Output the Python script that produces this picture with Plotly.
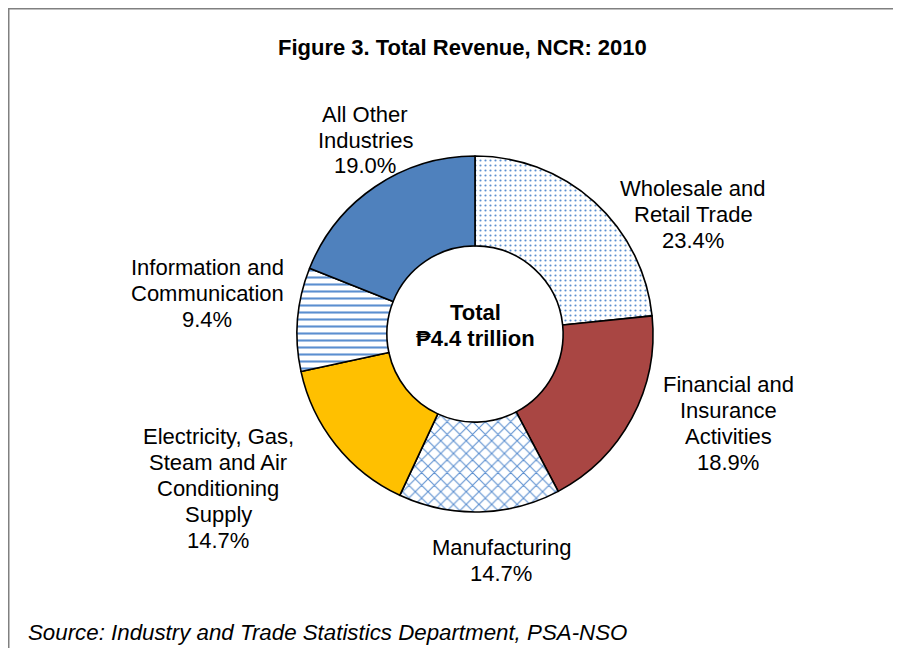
import plotly.graph_objects as go

W, H = 901, 648
OFF = 8  # the page puts the figure 8px in from the top-left corner

industries = [
    "Wholesale and<br>Retail Trade",
    "Financial and<br>Insurance<br>Activities",
    "Manufacturing",
    "Electricity, Gas,<br>Steam and Air<br>Conditioning<br>Supply",
    "Information and<br>Communication",
    "All Other<br>Industries",
]
shares = [23.4, 18.9, 14.7, 14.7, 9.4, 19.0]

fill_colors = ["white", "#A94643", "white", "#FFC000", "white", "#4F81BD"]
pattern_shapes = [".", "", "x", "", "-", ""]
pattern_sizes = [5, 8, 9, 8, 7, 8]
pattern_solidity = [0.15, 0.3, 0.22, 0.3, 0.3, 0.3]

# label placement in page pixels: centre x, y of first line
label_pos = [(693, 188), (728, 384), (501, 547), (218, 436), (207, 267), (365, 114)]
LINE_GAP = 26


def px_x(x):
    return (x - OFF) / W


def px_y(y):
    return 1 - (y - OFF) / H


cx, cy, r = 475, 334, 178

fig = go.Figure()
fig.add_trace(
    go.Pie(
        labels=industries,
        values=shares,
        sort=False,
        direction="clockwise",
        rotation=0,
        hole=0.495,
        textinfo="none",
        hoverinfo="label+percent",
        showlegend=False,
        marker=dict(
            colors=fill_colors,
            line=dict(color="black", width=1.6),
            pattern=dict(
                shape=pattern_shapes,
                fgcolor="#5B8FD0",
                bgcolor=fill_colors,
                size=pattern_sizes,
                solidity=pattern_solidity,
            ),
        ),
        domain=dict(x=[px_x(cx - r), px_x(cx + r)], y=[px_y(cy + r), px_y(cy - r)]),
    )
)


def text_at(text, x, y, size=22, xanchor="center"):
    return dict(
        text=text,
        x=px_x(x),
        y=px_y(y),
        xref="paper",
        yref="paper",
        xanchor=xanchor,
        yanchor="middle",
        showarrow=False,
        font=dict(size=size, color="black"),
    )


annotations = []
for name, share, (lx, ly) in zip(industries, shares, label_pos):
    lines = name.split("<br>") + [f"{share:.1f}%"]
    for i, line in enumerate(lines):
        annotations.append(text_at(line, lx, ly + i * LINE_GAP))

annotations.append(text_at("<b>Total</b>", cx, 312))
annotations.append(text_at("<b>₱4.4 trillion</b>", cx, 338))
annotations.append(text_at("<b>Figure 3. Total Revenue, NCR: 2010</b>", 462, 47))
annotations.append(
    text_at("<i>Source: Industry and Trade Statistics Department, PSA-NSO</i>", 26, 632, size=22.3, xanchor="left")
)

fig.update_layout(
    width=W,
    height=H,
    margin=dict(l=0, r=0, t=0, b=0),
    paper_bgcolor="white",
    plot_bgcolor="white",
    font=dict(family="Liberation Sans, Arial, DejaVu Sans, sans-serif"),
    annotations=annotations,
    shapes=[
        dict(type="line", xref="paper", yref="paper", x0=px_x(8), x1=px_x(901),
             y0=px_y(8.5), y1=px_y(8.5), line=dict(color="#808080", width=2)),
        dict(type="line", xref="paper", yref="paper", x0=px_x(8.5), x1=px_x(8.5),
             y0=px_y(8), y1=px_y(648), line=dict(color="#808080", width=2)),
    ],
)

fig.write_html("out.html")
